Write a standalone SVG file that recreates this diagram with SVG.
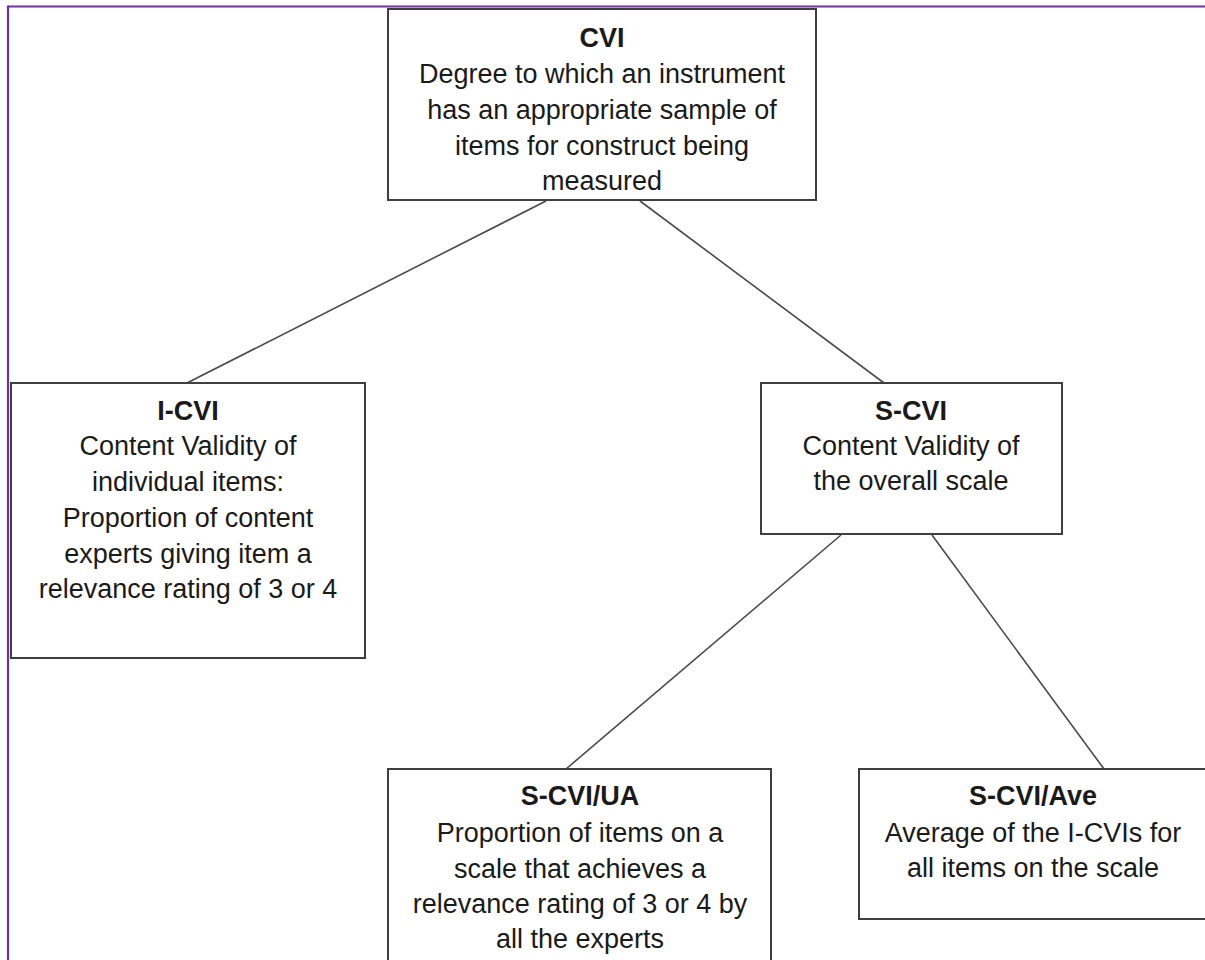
<svg xmlns="http://www.w3.org/2000/svg" width="1205" height="960" viewBox="0 0 1205 960">
<style>
.box{fill:#fff;stroke:#3f3f3f;stroke-width:2}
.t{font-family:"Liberation Sans",Arial,sans-serif;font-size:27px;fill:#1a1a1a;text-anchor:middle}
.b{font-weight:bold}
.c{stroke:#4a4a4a;stroke-width:1.6;fill:none}
</style>
<rect width="1205" height="960" fill="#fff"/>
<g id="frame">
<line x1="8" y1="6.5" x2="1205" y2="6.5" stroke="#7030A0" stroke-width="2.2"/>
<line x1="8" y1="5.5" x2="8" y2="960" stroke="#7030A0" stroke-width="2.2"/>
</g>
<g id="connectors">
<line class="c" x1="546" y1="201" x2="187" y2="383"/>
<line class="c" x1="640" y1="201" x2="884" y2="383"/>
<line class="c" x1="841" y1="535" x2="566" y2="769"/>
<line class="c" x1="932" y1="535" x2="1104" y2="769"/>
</g>
<g id="cvi">
<rect class="box" x="388" y="9" width="428" height="191"/>
<text class="t b" x="602" y="47">CVI</text>
<text class="t" x="602" y="83">Degree to which an instrument</text>
<text class="t" x="602" y="119">has an appropriate sample of</text>
<text class="t" x="602" y="155">items for construct being</text>
<text class="t" x="602" y="190">measured</text>
</g>
<g id="icvi">
<rect class="box" x="11" y="383" width="354" height="275"/>
<text class="t b" x="188" y="420">I-CVI</text>
<text class="t" x="188" y="455">Content Validity of</text>
<text class="t" x="188" y="491">individual items:</text>
<text class="t" x="188" y="527">Proportion of content</text>
<text class="t" x="188" y="563">experts giving item a</text>
<text class="t" x="188" y="598">relevance rating of 3 or 4</text>
</g>
<g id="scvi">
<rect class="box" x="761" y="383" width="301" height="151"/>
<text class="t b" x="911" y="420">S-CVI</text>
<text class="t" x="911" y="455">Content Validity of</text>
<text class="t" x="911" y="490">the overall scale</text>
</g>
<g id="scvi-ua">
<rect class="box" x="388" y="769" width="383" height="200"/>
<text class="t b" x="580" y="805">S-CVI/UA</text>
<text class="t" x="580" y="842">Proportion of items on a</text>
<text class="t" x="580" y="878">scale that achieves a</text>
<text class="t" x="580" y="913">relevance rating of 3 or 4 by</text>
<text class="t" x="580" y="948">all the experts</text>
</g>
<g id="scvi-ave">
<rect class="box" x="859" y="769" width="350" height="150"/>
<text class="t b" x="1033" y="805">S-CVI/Ave</text>
<text class="t" x="1033" y="842">Average of the I-CVIs for</text>
<text class="t" x="1033" y="877">all items on the scale</text>
</g>
</svg>
